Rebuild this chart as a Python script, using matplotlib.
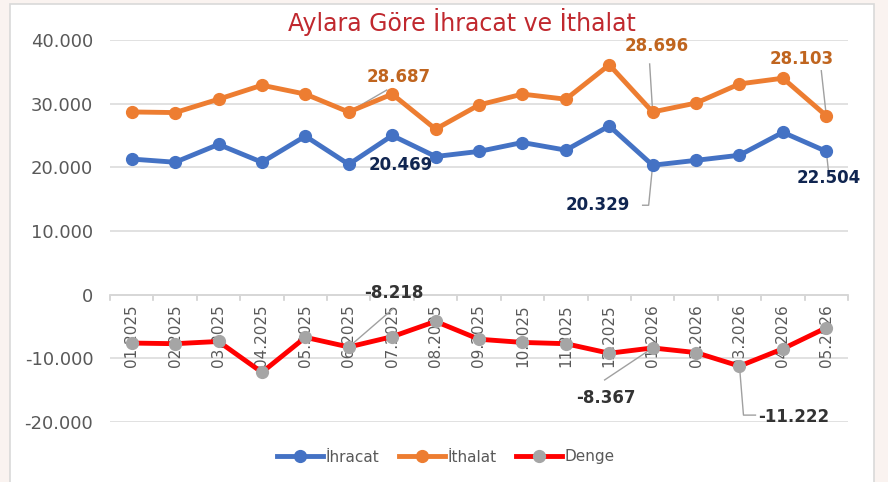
import matplotlib
matplotlib.use("Agg")
import matplotlib.pyplot as plt
from matplotlib import font_manager
from matplotlib.patches import Rectangle
from matplotlib.lines import Line2D

months = ["01.2025", "02.2025", "03.2025", "04.2025", "05.2025", "06.2025",
          "07.2025", "08.2025", "09.2025", "10.2025", "11.2025", "12.2025",
          "01.2026", "02.2026", "03.2026", "04.2026", "05.2026"]
ihracat = [21300, 20800, 23600, 20800, 24900, 20469, 25000, 21700, 22500,
           23900, 22700, 26500, 20329, 21100, 21900, 25500, 22504]
ithalat = [28700, 28600, 30700, 32900, 31500, 28687, 31500, 26000, 29800,
           31500, 30700, 36100, 28696, 30100, 33100, 34000, 28103]
denge = [-7600, -7700, -7350, -12200, -6700, -8218, -6600, -4200, -7000,
         -7500, -7700, -9200, -8367, -9100, -11222, -8500, -5200]
yticks = [-20000, -10000, 0, 10000, 20000, 30000, 40000]
ytick_labels = ["-20.000", "-10.000", "0", "10.000", "20.000", "30.000", "40.000"]
title = "Aylara Göre İhracat ve İthalat"
series_names = ["İhracat", "İthalat", "Denge"]

BLUE = "#4472C4"
ORANGE = "#ED7D31"
RED = "#FF0000"
GRAY = "#A5A5A5"
TXT = "#595959"

W, H = 888, 482
fig = plt.figure(figsize=(W / 100, H / 100), dpi=100, facecolor="#FAF3F0")

# white card
fig.patches.append(Rectangle((10 / W, -0.01), 864 / W, 1 - 4 / H + 0.01,
                             transform=fig.transFigure, facecolor="white",
                             edgecolor="#D9D9D9", lw=1.2, zorder=-10))

ax = fig.add_axes([110 / W, 1 - 422 / H, 738 / W, 382 / H])
ax.set_zorder(1)
ax.set_facecolor("none")
x = list(range(len(months)))
ax.set_xlim(-0.5, len(months) - 0.5)
ax.set_ylim(-20000, 40000)
for s in ax.spines.values():
    s.set_visible(False)
ax.set_yticks(yticks)
ax.set_yticklabels(ytick_labels, fontsize=13, color=TXT, family="DejaVu Sans")
ax.tick_params(axis="y", length=0, pad=12)
ax.set_xticks([])
ax.grid(axis="y", color="#D9D9D9", lw=1.1, zorder=0)
ax.axhline(0, color="#D0D0D0", lw=1.3, zorder=1)
for b in range(len(months) + 1):
    ax.plot([b - 0.5, b - 0.5], [0, -900], color="#D0D0D0", lw=1.2, zorder=1,
            clip_on=False)
for i, m in enumerate(months):
    ax.annotate(m, (i, 0), xytext=(0, -7), textcoords="offset points",
                rotation=90, ha="center", va="top", fontsize=11, color=TXT,
                family="DejaVu Sans", zorder=2)

ax.plot(x, ihracat, color=BLUE, lw=3.5, marker="o", ms=8.5, zorder=4,
        solid_joinstyle="round")
ax.plot(x, ithalat, color=ORANGE, lw=3.5, marker="o", ms=8.5, zorder=4,
        solid_joinstyle="round")
ax.plot(x, denge, color=RED, lw=3.5, marker="o", ms=8.5, mfc=GRAY, mec=GRAY,
        zorder=4, solid_joinstyle="round")


def fmt(v):
    s = f"{abs(v):,}".replace(",", ".")
    return ("-" if v < 0 else "") + s


def lab(series, idx, dx, dy, color):
    v = series[idx]
    ax.annotate(fmt(v), (idx, v), xytext=(dx, dy), textcoords="offset pixels",
                ha="center", va="center", fontsize=12, fontweight="bold",
                color=color, family="DejaVu Sans", zorder=6)


NAVY = "#102550"
BROWN = "#C0651F"
DARK = "#333333"
LEAD = "#A0A0A0"


def leader(idx, v, pts):
    px, py = ax.transData.transform((idx, v))
    inv = ax.transData.inverted()
    xs, ys = [], []
    for ddx, ddy in pts:
        a, b = inv.transform((px + ddx, py + ddy))
        xs.append(a)
        ys.append(b)
    ax.plot(xs, ys, color=LEAD, lw=1, zorder=3, clip_on=False)


fig.canvas.draw()
# Ithalat labels
lab(ithalat, 5, 50, 35, BROWN)
leader(5, ithalat[5], [(0, 0), (38, 22)])
lab(ithalat, 12, 4, 66, BROWN)
leader(12, ithalat[12], [(0, 0), (-3, 48)])
lab(ithalat, 16, -25, 57, BROWN)
leader(16, ithalat[16], [(0, 0), (-5, 45)])
# Ihracat labels
lab(ihracat, 5, 52, -1, NAVY)
lab(ihracat, 12, -55, -40, NAVY)
leader(12, ihracat[12], [(0, 0), (-4, -40), (-10, -40)])
lab(ihracat, 16, 2, -27, NAVY)
leader(16, ihracat[16], [(0, 0), (2, -18)])
# Denge labels
lab(denge, 5, 45, 54, DARK)
leader(5, denge[5], [(0, 0), (44, 38)])
lab(denge, 12, -47, -50, DARK)
leader(12, denge[12], [(0, 0), (-48, -32)])
lab(denge, 14, 54, -51, DARK)
leader(14, denge[14], [(0, 0), (4, -49), (16, -49)])

# title
fams = {f.name for f in font_manager.fontManager.ttflist}
tfam = "Liberation Sans Narrow" if "Liberation Sans Narrow" in fams else "DejaVu Sans"
fig.text(462 / W, 1 - 22 / H, title, ha="center", va="center",
         fontsize=20 if tfam != "DejaVu Sans" else 17, color="#C0282E",
         family=tfam)

# legend
handles = [
    Line2D([], [], color=BLUE, lw=3.5, marker="o", ms=8.5),
    Line2D([], [], color=ORANGE, lw=3.5, marker="o", ms=8.5),
    Line2D([], [], color=RED, lw=3.5, marker="o", ms=8.5, mfc=GRAY, mec=GRAY),
]
fig.legend(handles, series_names, loc="center", bbox_to_anchor=(446 / W, 1 - 457 / H),
           ncol=3, frameon=False, handlelength=3.0,
           handletextpad=0.15, columnspacing=1.3, labelcolor=TXT,
           prop={"family": "DejaVu Sans", "size": 11})

fig.savefig("out.png", dpi=100, facecolor=fig.get_facecolor())
